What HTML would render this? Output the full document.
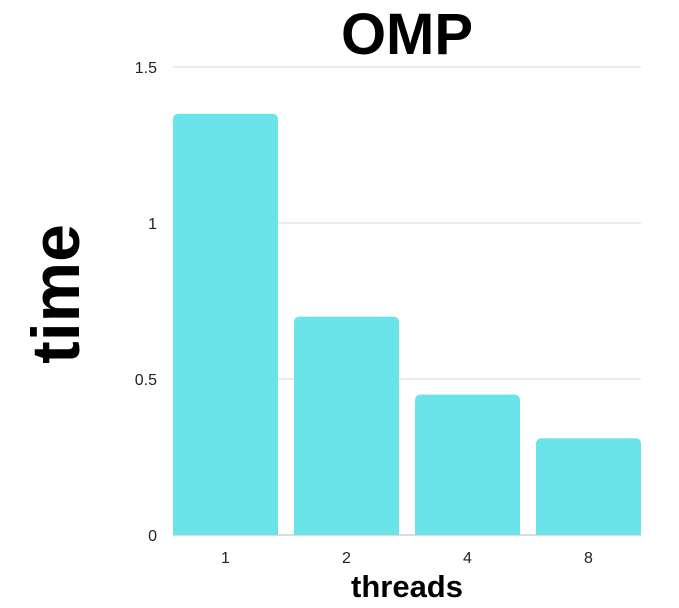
<!DOCTYPE html>
<html><head><meta charset="utf-8"><style>
html,body{margin:0;padding:0;background:#fff;}
svg{display:block;font-family:"Liberation Sans",sans-serif;}
</style></head><body>
<svg id="chart" width="679" height="608">
<text x="407" y="54" text-anchor="middle" font-size="58" font-weight="bold" fill="#000">OMP</text>
<text x="407" y="597" text-anchor="middle" font-size="31" font-weight="bold" fill="#000">threads</text>
<text transform="translate(79,294) rotate(-90)" text-anchor="middle" font-size="68" font-weight="bold" fill="#000">time</text>
<g id="grid"></g><g id="bars"></g><g id="labels"></g>
</svg>
<script>
const categories = ["1","2","4","8"];
const values = [1.35, 0.7, 0.45, 0.31];
const yTicks = [0, 0.5, 1, 1.5];
const yTickLabels = ["0","0.5","1","1.5"];
const NS="http://www.w3.org/2000/svg";
const x0=173,x1=641,y0=535,y1=67,yMax=1.5,gap=16;
const band=(x1-x0+gap)/categories.length, bw=band-gap;
function y(v){return y0-(v/yMax)*(y0-y1);}
function xb(i){return x0+i*band;}
function mk(t,a,p){const e=document.createElementNS(NS,t);for(const k in a)e.setAttribute(k,a[k]);p.appendChild(e);return e;}
const grid=document.getElementById('grid'),bars=document.getElementById('bars'),labels=document.getElementById('labels');
yTicks.forEach((t,i)=>{
  const l=mk('line',{x1:x0,x2:x1,y1:y(t),y2:y(t),stroke:t===0?'#bbb':'#d9d9d9','stroke-width':1},grid);
  
  
  const tx=mk('text',{x:157,y:y(t)+6,'text-anchor':'end','font-size':16,fill:'#222'},labels);
  tx.textContent=yTickLabels[i];
  
  
});
categories.forEach((c,i)=>{
  const bx=xb(i);
  const top=y(values[i]), r=6;
  const d=`M${bx},${y0} L${bx},${top+r} Q${bx},${top} ${bx+r},${top} L${bx+bw-r},${top} Q${bx+bw},${top} ${bx+bw},${top+r} L${bx+bw},${y0} Z`;
  const p=mk('path',{d:d,fill:'#6ae4e8'},bars);
  
  
  const tx=mk('text',{x:bx+bw/2,y:563,'text-anchor':'middle','font-size':16,fill:'#222'},labels);
  tx.textContent=c;
  
  
});
</script>
</body></html>
